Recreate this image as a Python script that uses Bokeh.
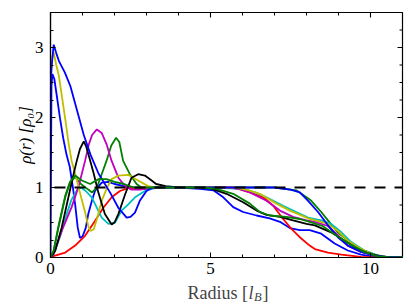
from math import pi
from bokeh.plotting import figure
from bokeh.layouts import column
from bokeh.models import Range1d, FixedTicker, Span, Label
from bokeh.embed import file_html
from bokeh.resources import INLINE

# ---- data (radius in l_B, density in rho_0) ----
blue1_r = [0, 0.03, 0.06, 0.12, 0.2, 0.3, 0.4, 0.5, 0.6, 0.7, 0.77, 0.85, 0.92, 1.0, 1.1, 1.18, 1.3, 1.39, 1.6, 1.8,
           2.0, 2.3, 2.6, 3.0, 3.5, 4.0, 4.67, 5.09, 5.4, 5.71, 6.02, 6.44, 6.85, 7.17, 7.48, 7.79, 8.1, 8.46, 8.88,
           9.29, 9.71, 10.1, 10.5, 11.0]
blue1_rho = [0, 2.45, 2.62, 2.55, 2.3, 1.98, 1.7, 1.47, 1.3, 1.0, 0.76, 0.43, 0.28, 0.3, 0.42, 0.62, 0.82, 0.95, 1.07,
             1.08, 1.05, 1.02, 1.0, 0.98, 1.0, 1.0, 0.98, 0.96, 0.86, 0.72, 0.65, 0.6, 0.56, 0.51, 0.42, 0.39, 0.39,
             0.34, 0.2, 0.1, 0.04, 0.01, 0.0, 0.0]

blue2_r = [0, 0.04, 0.1, 0.18, 0.26, 0.45, 0.62, 0.83, 1.04, 1.25, 1.5, 1.7, 1.86, 2.12, 2.38, 2.5, 2.64, 2.79, 3.0,
           3.2, 4.0, 5.0, 6.0, 7.0, 7.5, 7.79, 8.05, 8.36, 8.67, 8.98, 9.29, 9.71, 10.1, 10.5, 11.0]
blue2_rho = [2.45, 2.75, 3.04, 2.92, 2.81, 2.64, 2.45, 2.1, 1.75, 1.47, 1.2, 1.05, 0.93, 0.71, 0.57, 0.58, 0.64, 0.81,
             0.95, 1.0, 1.0, 1.0, 1.0, 1.0, 0.97, 0.93, 0.81, 0.65, 0.46, 0.29, 0.17, 0.08, 0.03, 0.01, 0.0]

red_r = [0, 0.09, 0.46, 0.77, 1.08, 1.39, 1.65, 1.91, 2.17, 2.43, 3.0, 4.0, 5.0, 5.71, 6.23, 6.65, 6.96, 7.27, 7.53,
         7.79, 8.1, 8.26, 8.67, 9.09, 9.7, 10.2, 11.0]
red_rho = [0, 0.02, 0.07, 0.17, 0.31, 0.52, 0.71, 0.86, 0.95, 0.99, 1.0, 1.0, 1.0, 1.0, 0.93, 0.86, 0.74, 0.55, 0.41,
           0.29, 0.17, 0.12, 0.07, 0.04, 0.01, 0.0, 0.0]

cyan_r = [0, 0.1, 0.3, 0.47, 0.65, 0.85, 0.95, 1.1, 1.29, 1.6, 1.81, 2.02, 2.22, 2.43, 2.64, 2.95, 3.3, 4.0, 5.0, 6.0,
          6.4, 6.75, 7.27, 7.68, 8.05, 8.46, 8.77, 9.09, 9.4, 9.81, 10.2, 10.6, 11.0]
cyan_rho = [0, 0.05, 0.3, 0.57, 0.82, 0.98, 1.0, 0.95, 0.86, 0.57, 0.48, 0.5, 0.67, 0.76, 0.86, 0.95, 1.0, 1.0, 1.0,
            0.98, 0.93, 0.86, 0.74, 0.65, 0.57, 0.53, 0.48, 0.36, 0.22, 0.1, 0.03, 0.0, 0.0]

magenta_r = [0, 0.1, 0.35, 0.66, 0.87, 1.08, 1.2, 1.3, 1.45, 1.6, 1.75, 1.91, 2.12, 2.33, 2.53, 2.8, 3.2, 4.0, 5.0,
             5.5, 5.9, 6.23, 6.75, 7.17, 7.58, 8.0, 8.26, 8.67, 8.98, 9.29, 9.7, 10.1, 10.5, 11.0]
magenta_rho = [0, 0.05, 0.38, 0.72, 1.0, 1.38, 1.62, 1.75, 1.83, 1.78, 1.62, 1.38, 1.14, 1.02, 0.97, 0.97, 1.0, 1.0,
               1.0, 1.0, 0.98, 0.93, 0.81, 0.67, 0.58, 0.53, 0.51, 0.45, 0.32, 0.17, 0.08, 0.03, 0.0, 0.0]

yellow_r = [0, 0.05, 0.1, 0.18, 0.26, 0.36, 0.47, 0.57, 0.66, 0.77, 0.87, 0.98, 1.08, 1.18, 1.25, 1.35, 1.45, 1.6,
            1.75, 1.91, 2.12, 2.43, 2.74, 3.05, 3.3, 4.0, 5.0, 5.8, 6.2, 6.54, 7.06, 7.48, 7.89, 8.05, 8.67, 8.98,
            9.29, 9.71, 10.1, 10.5, 11.0]
yellow_rho = [2.6, 2.85, 2.93, 2.75, 2.6, 2.29, 1.95, 1.62, 1.38, 1.2, 1.02, 0.82, 0.65, 0.45, 0.38, 0.4, 0.55, 0.81,
              0.98, 1.12, 1.17, 1.18, 1.1, 1.02, 1.0, 1.0, 1.0, 1.0, 0.96, 0.91, 0.77, 0.67, 0.59, 0.56, 0.48, 0.38,
              0.24, 0.12, 0.04, 0.01, 0.0]

black_r = [0, 0.05, 0.15, 0.35, 0.56, 0.72, 0.82, 0.92, 1.04, 1.12, 1.2, 1.35, 1.5, 1.7, 1.91, 2.0, 2.12, 2.33, 2.53,
           2.74, 2.95, 3.16, 3.3, 3.6, 4.0, 4.98, 5.5, 6.02, 6.44, 6.75, 7.17, 7.58, 8.0, 8.26, 8.77, 9.19, 9.6,
           10.0, 10.4, 11.0]
black_rho = [0, 0.03, 0.1, 0.43, 0.86, 1.19, 1.38, 1.55, 1.66, 1.58, 1.45, 1.2, 0.92, 0.62, 0.47, 0.5, 0.62, 0.9,
             1.14, 1.19, 1.17, 1.1, 1.05, 1.02, 1.0, 0.99, 0.91, 0.79, 0.67, 0.61, 0.58, 0.53, 0.48, 0.46, 0.36,
             0.24, 0.12, 0.05, 0.01, 0.0]

green1_r = [0, 0.1, 0.25, 0.46, 0.61, 0.77, 0.95, 1.18, 1.3, 1.45, 1.6, 1.75, 1.9, 2.05, 2.15, 2.27, 2.48, 2.69, 2.9,
            3.2, 4.0, 5.0, 6.0, 7.0, 7.68, 8.0, 8.15, 8.46, 8.67, 8.98, 9.4, 9.81, 10.2, 10.6, 11.0]
green1_rho = [0, 0.1, 0.43, 0.86, 1.07, 1.15, 1.05, 0.97, 0.93, 1.0, 1.19, 1.38, 1.6, 1.71, 1.65, 1.38, 1.19, 1.05,
              0.98, 1.0, 1.0, 1.0, 1.0, 1.0, 0.96, 0.86, 0.81, 0.65, 0.53, 0.36, 0.2, 0.1, 0.03, 0.0, 0.0]

green2_r = [0, 0.1, 0.25, 0.46, 0.61, 0.77, 0.98, 1.24, 1.5, 1.75, 2.0, 2.3, 2.6, 3.0, 4.0, 4.8, 5.19, 5.71, 6.23,
            6.54, 6.85, 7.37, 7.79, 8.1, 8.5, 8.98, 9.4, 9.8, 10.2, 10.6, 11.0]
green2_rho = [0, 0.1, 0.45, 0.88, 1.08, 1.17, 1.1, 1.05, 1.12, 1.12, 1.08, 1.05, 1.0, 1.0, 1.0, 1.0, 0.98, 0.91, 0.77,
              0.65, 0.6, 0.58, 0.55, 0.51, 0.45, 0.3, 0.18, 0.08, 0.02, 0.0, 0.0]

reference_level = 1.0
x_start, x_end = 0, 11
y_start, y_end = 0, 3.5
x_ticks = [0, 5, 10]
x_minor = [1, 2, 3, 4, 6, 7, 8, 9]
y_ticks = [0, 1, 2, 3]
y_minor = [0.25, 0.5, 0.75, 1.25, 1.5, 1.75, 2.25, 2.5, 2.75, 3.25]
y_title = "ρ(r) [ρ₀]"

curves = [
    (blue1_r, blue1_rho, "#0000ff"),
    (green1_r, green1_rho, "#008000"),
    (red_r, red_rho, "#ff0000"),
    (cyan_r, cyan_rho, "#00bfbf"),
    (magenta_r, magenta_rho, "#bf00bf"),
    (yellow_r, yellow_rho, "#bfbf00"),
    (black_r, black_rho, "#000000"),
    (blue2_r, blue2_rho, "#0000ff"),
    (green2_r, green2_rho, "#008000"),
]

FONT = "Liberation Serif"
W = 410
MAIN_H = 282
XT_H = 22            # height of the strip holding the x title

# ---------------- main plot ----------------
p = figure(width=W, height=MAIN_H, output_backend="svg", toolbar_location=None,
           x_range=Range1d(x_start, x_end), y_range=Range1d(y_start, y_end),
           min_border_left=50, min_border_right=8, min_border_top=12, min_border_bottom=25)
p.xgrid.visible = False
p.ygrid.visible = False
p.outline_line_color = "black"
p.outline_line_width = 1.2

for r, rho, col in curves:
    p.line(r, rho, line_color=col, line_width=1.8)

p.add_layout(Span(location=reference_level, dimension="width", line_color="black",
                  line_width=2, line_dash="11 9", line_dash_offset=16))

# mirrored ticks on top and right edges (dash markers centred on the frame edge, clipped by the frame)
p.scatter(x_ticks, [y_end] * len(x_ticks), marker="dash", angle=pi / 2, size=10,
          line_color="black", line_width=1.1)
p.scatter(x_minor, [y_end] * len(x_minor), marker="dash", angle=pi / 2, size=6,
          line_color="black", line_width=1.0)
p.scatter([x_end] * len(y_ticks), y_ticks, marker="dash", size=10, line_color="black", line_width=1.1)
p.scatter([x_end] * len(y_minor), y_minor, marker="dash", size=6, line_color="black", line_width=1.0)


def style_axis(ax, ticks, minor):
    ax.ticker = FixedTicker(ticks=ticks, minor_ticks=minor)
    ax.axis_line_color = "black"
    ax.axis_line_width = 1.2
    ax.major_tick_in = 5
    ax.major_tick_out = 0
    ax.minor_tick_in = 3
    ax.minor_tick_out = 0
    ax.major_tick_line_color = "black"
    ax.minor_tick_line_color = "black"
    ax.major_label_text_font = FONT
    ax.major_label_text_font_size = "17px"
    ax.major_label_text_color = "black"


style_axis(p.xaxis[0], x_ticks, x_minor)
style_axis(p.yaxis[0], y_ticks, y_minor)
p.xaxis[0].major_label_standoff = 5
p.xaxis[0].axis_label = None
p.yaxis[0].major_label_standoff = 7
p.yaxis[0].axis_label = y_title
p.yaxis[0].axis_label_text_font = FONT
p.yaxis[0].axis_label_text_font_size = "17px"
p.yaxis[0].axis_label_text_font_style = "italic"
p.yaxis[0].axis_label_text_color = "black"
p.yaxis[0].axis_label_standoff = -3

# ---------------- x title strip (below the plot; its frame is aligned with the main frame) ----------------
xt = figure(width=W, height=XT_H, output_backend="svg", toolbar_location=None,
            x_axis_type=None, y_axis_type=None, x_range=Range1d(0, 1), y_range=Range1d(0, 1),
            min_border=0, min_border_left=50, min_border_right=8)
xt.outline_line_color = None
xt.xgrid.visible = False
xt.ygrid.visible = False

xy = 12
x0 = 137   # measured from the strip's frame left edge (which sits under the main frame's left edge)
xt.add_layout(Label(x=x0, y=xy, x_units="screen", y_units="screen", text="Radius [",
                    text_font=FONT, text_font_size="18px", text_baseline="middle", text_align="left"))
xt.add_layout(Label(x=x0 + 61, y=xy, x_units="screen", y_units="screen", text="l",
                    text_font=FONT, text_font_size="18px", text_font_style="italic",
                    text_baseline="middle", text_align="left"))
xt.add_layout(Label(x=x0 + 66.5, y=xy - 4, x_units="screen", y_units="screen", text="B",
                    text_font=FONT, text_font_size="12.5px", text_font_style="italic",
                    text_baseline="middle", text_align="left"))
xt.add_layout(Label(x=x0 + 75, y=xy, x_units="screen", y_units="screen", text="]",
                    text_font=FONT, text_font_size="18px", text_baseline="middle", text_align="left"))

layout = column(p, xt, spacing=0)

open("out.html", "w").write(file_html(layout, INLINE))
